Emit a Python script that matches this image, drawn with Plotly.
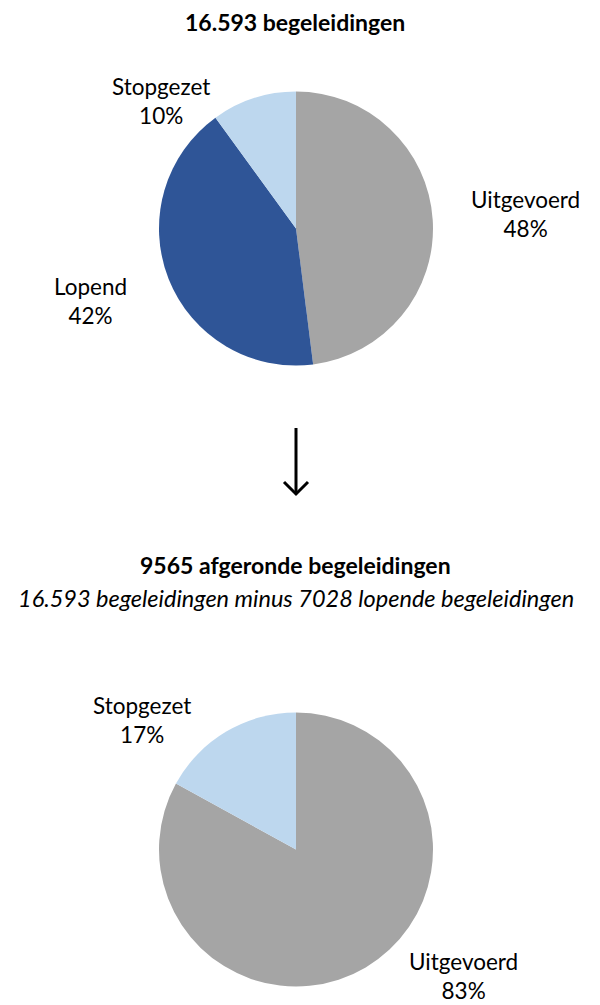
import plotly.graph_objects as go

W, H = 600, 1005
OX, OY = 8, 8  # default page body margin offset

labels1 = ["Uitgevoerd", "Lopend", "Stopgezet"]
values1 = [48, 42, 10]
labels2 = ["Uitgevoerd", "Stopgezet"]
values2 = [83, 17]
colors = {"Uitgevoerd": "#A5A5A5", "Lopend": "#2F5597", "Stopgezet": "#BDD7EE"}

title1 = "16.593 begeleidingen"
title2 = "9565 afgeronde begeleidingen"
subtitle2 = "16.593 begeleidingen minus 7028 lopende begeleidingen"

FONT = "Source Sans Pro, Lato, Roboto, sans-serif"
FS = 22.5


def px(x):
    return (x - OX) / W


def py(y):
    return 1 - (y - OY) / H


def domain(cx, cy, r):
    return dict(x=[px(cx - r), px(cx + r)], y=[py(cy + r), py(cy - r)])


fig = go.Figure()
fig.add_trace(go.Pie(
    labels=labels1, values=values1, sort=False, direction="clockwise", rotation=0,
    marker=dict(colors=[colors[l] for l in labels1], line=dict(width=0)),
    textinfo="none", hoverinfo="label+percent", showlegend=False,
    domain=domain(296, 228.5, 137),
))
fig.add_trace(go.Pie(
    labels=labels2, values=values2, sort=False, direction="clockwise", rotation=0,
    marker=dict(colors=[colors[l] for l in labels2], line=dict(width=0)),
    textinfo="none", hoverinfo="label+percent", showlegend=False,
    domain=domain(296, 849.5, 137),
))

ann = []


def text(x, y, s, size=FS, **kw):
    ann.append(dict(x=px(x), y=py(y), xref="paper", yref="paper", text=s,
                    showarrow=False, xanchor="center", yanchor="middle",
                    font=dict(family=FONT, size=size, color="#000000"), **kw))


text(295, 22, "<b>" + title1 + "</b>", size=23)
text(295, 565, "<b>" + title2 + "</b>", size=23)
text(296, 598, "<i>" + subtitle2 + "</i>", size=23.5)

pos1 = {"Stopgezet": (161, 101), "Uitgevoerd": (525, 214), "Lopend": (90, 301)}
for l, v in zip(labels1, values1):
    x, y = pos1[l]
    text(x, y, f"{l}<br>{v}%")
pos2 = {"Stopgezet": (142, 720), "Uitgevoerd": (463, 976)}
for l, v in zip(labels2, values2):
    x, y = pos2[l]
    text(x, y, f"{l}<br>{v}%")

shapes = [
    dict(type="line", xref="paper", yref="paper", x0=px(296), x1=px(296), y0=py(428), y1=py(494),
         line=dict(color="black", width=3)),
    dict(type="path", xref="paper", yref="paper",
         path=f"M {px(284)} {py(482)} L {px(296)} {py(494)} L {px(308)} {py(482)}",
         line=dict(color="black", width=3)),
]

fig.update_layout(
    width=W, height=H, margin=dict(l=0, r=0, t=0, b=0),
    paper_bgcolor="white", plot_bgcolor="white",
    annotations=ann, shapes=shapes,
)
fig.write_html("out.html")
